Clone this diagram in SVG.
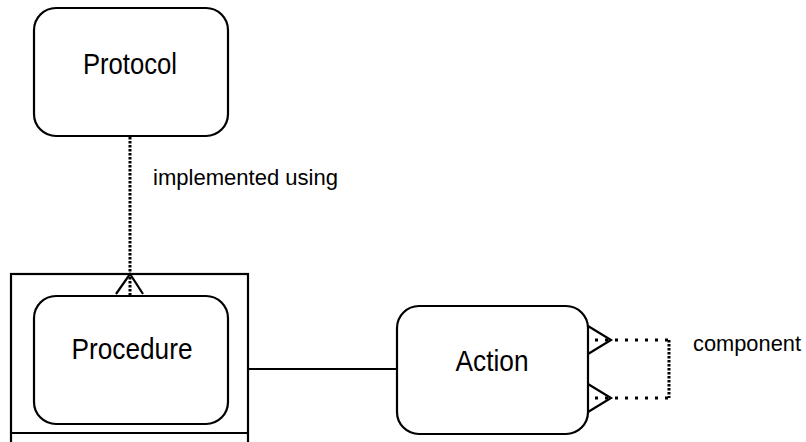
<svg xmlns="http://www.w3.org/2000/svg" width="806" height="442" viewBox="0 0 806 442">
<style>
.box{fill:#fff;stroke:#000;stroke-width:2.2}
.plain{fill:none;stroke:#000;stroke-width:2.2}
.name{font-family:"Liberation Sans",Arial,sans-serif;font-size:30px;fill:#000;text-anchor:middle}
.lbl{font-family:"Liberation Sans",Arial,sans-serif;font-size:22.5px;fill:#000}
.dotv{fill:none;stroke:#000;stroke-width:3;stroke-dasharray:2.5 1.5}
.doth{fill:none;stroke:#000;stroke-width:3;stroke-dasharray:3 7}
</style>
<rect width="806" height="442" fill="#fff"/>
<g id="node-protocol">
<rect class="box" x="34" y="8" width="194" height="128" rx="22" ry="22"/>
<text class="name" x="130" y="74" textLength="94" lengthAdjust="spacingAndGlyphs">Protocol</text>
</g>
<g id="node-procedure">
<rect class="box" x="11" y="274" width="237" height="200"/>
<line class="plain" x1="11" y1="433" x2="248" y2="433"/>
<rect class="box" x="34" y="296" width="194" height="128" rx="22" ry="22"/>
<text class="name" x="132" y="359" textLength="121" lengthAdjust="spacingAndGlyphs">Procedure</text>
</g>
<g id="node-action">
<rect class="box" x="397" y="306" width="191" height="128" rx="22" ry="22"/>
<text class="name" x="492" y="371" textLength="73" lengthAdjust="spacingAndGlyphs">Action</text>
</g>
<g id="connectors">
<line class="dotv" x1="130" y1="137" x2="130" y2="296"/>
<polyline class="plain" points="116,294 130,274 143,294"/>
<line class="plain" x1="248" y1="369" x2="397" y2="369"/>
<polyline class="doth" points="595,340 669,340"/>
<line class="dotv" x1="669" y1="340" x2="669" y2="398"/>
<polyline class="doth" points="595,398 669,398"/>
<polyline class="plain" points="588,326 611,340 588,354"/>
<polyline class="plain" points="588,384 611,398 588,412"/>
</g>
<g id="labels">
<text class="lbl" x="153" y="185" textLength="185" lengthAdjust="spacingAndGlyphs">implemented using</text>
<text class="lbl" x="693" y="351" textLength="108" lengthAdjust="spacingAndGlyphs">component</text>
</g>
</svg>
